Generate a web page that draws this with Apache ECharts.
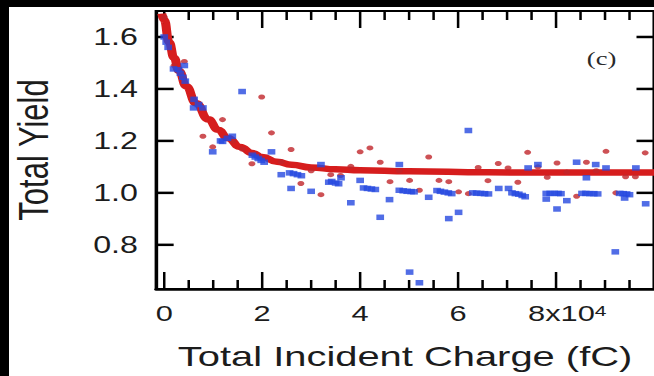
<!DOCTYPE html>
<html>
<head>
<meta charset="utf-8">
<script src="https://cdn.jsdelivr.net/npm/echarts@6/dist/echarts.min.js"></script>
<style>
  html, body { margin: 0; padding: 0; background: #fff; }
  .band { position: absolute; background: #000; z-index: 5; }
  /* the source picture is stretched sideways, so the chart is drawn narrow and widened */
  #main { position: absolute; left: 0; top: 0; width: 467px; height: 376px;
          transform: scaleX(1.40043); transform-origin: 0 0; }
</style>
</head>
<body>
<div id="main"></div>
<div class="band" style="left:0;top:0;width:654px;height:7px"></div>
<div class="band" style="left:0;top:0;width:9px;height:376px"></div>
<script>
// x in units of 1e4 fC
var fitX = [-0.05, 0, 0.1, 0.2, 0.3, 0.45, 0.65, 0.9, 1.1, 1.3, 1.55, 1.8, 2.0, 2.3, 2.6, 3.0, 3.5, 4.0, 5.0, 6.6, 8.0, 10.0];
var fitY = [1.69, 1.665, 1.58, 1.52, 1.47, 1.41, 1.345, 1.283, 1.243, 1.21, 1.177, 1.153, 1.138, 1.12, 1.108, 1.098, 1.091, 1.087, 1.083, 1.079, 1.078, 1.078];

var redX = [0.0,0.2,0.41,0.6,0.79, 0.99,1.19,1.4,1.59,1.79, 1.99,2.19,2.39,2.59,2.79, 3.0,3.2,3.4,3.6,3.81,
            4.0,4.2,4.41,4.61,4.8, 5.01,5.21,5.4,5.61,5.81, 6.01,6.21,6.41,6.61,6.82, 7.02,7.22,7.42,7.63,7.82,
            8.02,8.22,8.42,8.62,8.82, 9.02,9.22,9.42,9.62,9.82];
var redY = [1.677,1.49,1.506,1.345,1.218, 1.177,1.282,1.2,1.169,1.112, 1.369,1.231,1.12,1.167,1.036, 1.085,0.993,1.07,1.067,1.102,
            1.158,1.173,1.118,1.043,1.085, 1.048,1.01,1.138,1.048,1.043, 1.004,0.997,1.098,1.047,1.113, 1.096,1.041,1.156,1.1,1.06,
            1.115,1.08,0.987,1.118,1.085, 1.16,1.0,1.062,1.062,1.154];

var blueX = [0.0,0.04,0.08,0.19,0.29, 0.41,0.33,0.38,0.43,0.61, 0.6,0.7,0.79,0.99,1.15, 1.19,1.29,1.39,1.59,1.8,
             1.86,1.92,1.98,2.04,2.19, 2.39,2.56,2.64,2.72,2.8, 2.59,3.0,3.2,3.36,3.42, 3.5,3.56,3.61,3.81,4.0,
             4.07,4.15,4.23,4.31,4.41, 4.6,4.8,4.8,4.88,4.96, 5.04,5.1,5.01,5.21,5.4, 5.57,5.64,5.72,5.8,5.87,
             5.81,6.01,6.21,6.3,6.38, 6.46,6.54,6.62,6.83,7.03, 7.1,7.17,7.24,7.31,7.37, 7.43,7.63,7.8,7.8,7.88,
             7.96,8.04,8.1,8.02,8.22, 8.42,8.62,8.53,8.61,8.69, 8.77,8.85,8.81,9.02,9.21, 9.3,9.37,9.44,9.5,9.4,
             9.63,9.83];
var blueY = [1.60,1.58,1.56,1.477,1.474, 1.49,1.46,1.445,1.43,1.36, 1.327,1.34,1.327,1.158,1.2, 1.198,1.21,1.218,1.39,1.145,
             1.138,1.132,1.125,1.118,1.158, 1.07,1.077,1.074,1.07,1.066, 1.017,1.006,1.109,1.041,1.044, 1.038,1.035,1.058,0.962,1.048,
             1.019,1.017,1.015,1.013,0.906, 0.974,1.109,1.01,1.008,1.006, 1.005,1.004,0.695,0.654,0.983, 1.009,1.006,1.003,1.0,0.997,
             0.901,0.925,1.24,1.0,0.999, 0.998,0.997,0.996,1.017,1.017, 1.0,0.997,0.995,0.99,0.985, 1.096,1.109,0.998,0.976,0.998,
             0.998,0.998,0.997,0.938,0.97, 1.118,1.058,0.998,0.998,0.997, 0.997,0.996,1.109,1.096,0.773, 0.998,0.997,0.996,0.993,0.98,
             1.096,0.958];

var xMajor = [0, 2, 4, 6, 8];
var xMinor = [0.5, 1, 1.5, 2.5, 3, 3.5, 4.5, 5, 5.5, 6.5, 7, 7.5, 8.5, 9, 9.5];
var xTickText = ['0', '2', '4', '6', '{gap|}8x10{sup|4}'];
var yMajor = [0.8, 1.0, 1.2, 1.4, 1.6];
var yTickText = ['0.8', '1.0', '1.2', '1.4', '1.6'];

function pairs(xs, ys) {
    return xs.map(function (x, i) { return [x, ys[i]]; });
}

// label lookup that never returns undefined (echarts may ask for other values)
function lookup(values, texts, v) {
    for (var i = 0; i < values.length; i++) {
        if (Math.abs(values[i] - v) < 1e-6) return texts[i];
    }
    return '';
}

var ink = '#1c1c1c';
var frame = '#000';
var font = 'Liberation Sans';
var xMin = -0.165, xMax = 10.0, yMin = 0.63, yMax = 1.70;

function seg(x1, y1, x2, y2, w) {
    return { type: 'line', shape: { x1: x1, y1: y1, x2: x2, y2: y2 }, style: { stroke: frame, lineWidth: w } };
}

// inward tick marks on all four sides, placed with the axis scales
function tickSeries(values, dir, len, w) {
    return {
        type: 'custom', z: 1, silent: true,
        data: values.map(function (v) { return dir === 'x' ? [v, yMin] : [xMin, v]; }),
        renderItem: function (params, api) {
            var kids;
            if (dir === 'x') {
                var v = api.value(0);
                var b = api.coord([v, yMin]), t = api.coord([v, yMax]);
                kids = [seg(b[0], b[1], b[0], b[1] - len, w), seg(t[0], t[1], t[0], t[1] + len, w)];
            } else {
                var u = api.value(1);
                var l = api.coord([xMin, u]), r = api.coord([xMax, u]);
                kids = [seg(l[0], l[1], l[0] + len, l[1], w), seg(r[0], r[1], r[0] - len, r[1], w)];
            }
            return { type: 'group', children: kids };
        }
    };
}

var option = {
    animation: false,
    grid: { left: 106, top: 11, width: 363, height: 278.5, show: true,
            borderColor: frame, borderWidth: 2.2, backgroundColor: 'transparent' },
    xAxis: {
        type: 'value', min: xMin, max: xMax,
        splitLine: { show: false },
        axisLine: { show: true, onZero: false, lineStyle: { color: frame, width: 2.6 } },
        axisTick: { show: false },
        axisLabel: {
            customValues: xMajor, margin: 14, color: ink, fontFamily: font, fontSize: 22,
            formatter: function (v) { return lookup(xMajor, xTickText, v); },
            rich: {
                gap: { width: 16 },
                sup: { fontFamily: font, fontSize: 15, color: ink, lineHeight: 1, verticalAlign: 'top' }
            }
        },
        name: 'Total Incident Charge (fC)', nameLocation: 'middle', nameGap: 53,
        nameTextStyle: { fontFamily: font, fontSize: 28.5, color: ink }
    },
    yAxis: {
        type: 'value', min: yMin, max: yMax,
        splitLine: { show: false },
        axisLine: { show: true, onZero: false, lineStyle: { color: frame, width: 1.9 } },
        axisTick: { show: false },
        axisLabel: {
            customValues: yMajor, margin: 13, color: ink, fontFamily: font, fontSize: 23,
            formatter: function (v) { return lookup(yMajor, yTickText, v); }
        },
        name: 'Total Yield', nameLocation: 'middle', nameGap: 72.5,
        nameTextStyle: { fontFamily: font, fontSize: 31, color: ink }
    },
    graphic: [{
        type: 'text', x: 429.6, y: 58,
        style: { text: '(c)', fill: '#2a2a2a', font: '19px "Liberation Serif"', align: 'center', verticalAlign: 'middle' }
    }],
    series: [
        tickSeries(xMajor, 'x', 17, 1.8),
        tickSeries(xMinor, 'x', 9, 1.8),
        tickSeries(yMajor, 'y', 12.5, 2.5),
        {
            name: 'fit', type: 'line', z: 2,
            data: pairs(fitX, fitY), smooth: true, smoothMonotone: 'x', showSymbol: false,
            lineStyle: { color: '#d61d1d', width: 6.5 }
        },
        {
            name: 'red', type: 'scatter', z: 3,
            data: pairs(redX, redY), symbol: 'circle', symbolSize: 5,
            itemStyle: { color: '#c0262a' }
        },
        {
            name: 'blue', type: 'scatter', z: 4,
            data: pairs(blueX, blueY), symbol: 'rect', symbolSize: 5.5,
            itemStyle: { color: '#2648e0' }
        }
    ]
};

echarts.init(document.getElementById('main'), null, { renderer: 'svg' }).setOption(option);
</script>
</body>
</html>
